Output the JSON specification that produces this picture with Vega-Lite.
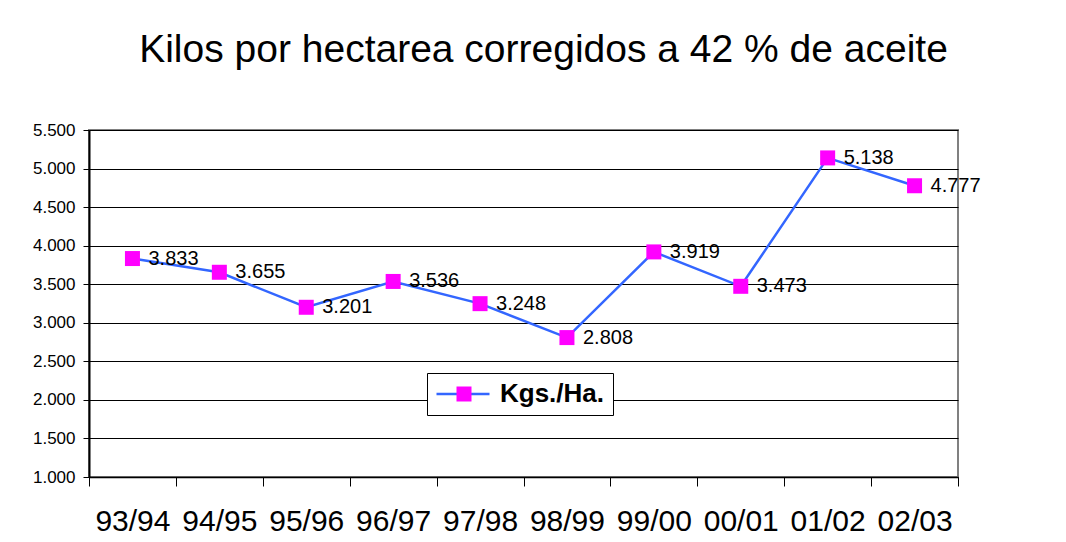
{
  "$schema": "https://vega.github.io/schema/vega-lite/v6.json",
  "autosize": "none",
  "width": 869,
  "height": 347,
  "padding": {"left": 89, "top": 130, "right": 108, "bottom": 65},
  "background": "white",
  "config": {
    "font": "Liberation Sans",
    "locale": {"number": {"decimal": ",", "thousands": ".", "grouping": [3], "currency": ["", ""]}},
    "view": {"stroke": "#808080", "strokeWidth": 2},
    "axis": {"labelFont": "Liberation Sans", "labelColor": "#000", "title": null}
  },
  "title": {
    "text": "Kilos por hectarea corregidos a 42 % de aceite",
    "fontSize": 39,
    "fontWeight": "normal",
    "font": "Liberation Sans",
    "color": "#000",
    "anchor": "middle",
    "frame": "group",
    "dx": 20,
    "baseline": "alphabetic",
    "offset": 20
  },
  "data": {
    "values": [
      {"season": "93/94", "kg": 3833},
      {"season": "94/95", "kg": 3655},
      {"season": "95/96", "kg": 3201},
      {"season": "96/97", "kg": 3536},
      {"season": "97/98", "kg": 3248},
      {"season": "98/99", "kg": 2808},
      {"season": "99/00", "kg": 3919},
      {"season": "00/01", "kg": 3473},
      {"season": "01/02", "kg": 5138},
      {"season": "02/03", "kg": 4777}
    ]
  },
  "encoding": {
    "x": {
      "field": "season", "type": "ordinal", "sort": null,
      "scale": {"type": "band", "paddingInner": 0, "paddingOuter": 0},
      "axis": {
        "labelAngle": 0, "labelFontSize": 30, "tickBand": "extent",
        "tickSize": 9, "tickColor": "#000", "tickWidth": 1,
        "domainColor": "#000", "domainWidth": 1.5,
        "labelPadding": 20, "grid": false
      }
    },
    "y": {
      "field": "kg", "type": "quantitative",
      "scale": {"domain": [1000, 5500], "nice": false, "zero": false},
      "axis": {
        "values": [1000, 1500, 2000, 2500, 3000, 3500, 4000, 4500, 5000, 5500],
        "format": ",d", "labelFontSize": 17, "tickSize": 6, "tickColor": "#000",
        "domainColor": "#000", "domainWidth": 2, "labelPadding": 8,
        "grid": true, "gridColor": "#000", "gridWidth": 1
      }
    }
  },
  "layer": [
    {
      "mark": {"type": "line", "strokeWidth": 2.5},
      "encoding": {
        "stroke": {
          "datum": "Kgs./Ha.",
          "scale": {"range": ["#3366FF"]},
          "legend": {
            "title": null, "orient": "none", "legendX": 338, "legendY": 243,
            "strokeColor": "#000", "fillColor": "#fff", "padding": 8,
            "symbolType": "stroke", "symbolSize": 2809, "symbolStrokeWidth": 2.5,
            "clipHeight": 26,
            "labelFontSize": 26, "labelFontWeight": "bold", "labelColor": "#000",
            "labelOffset": 9, "labelFont": "Liberation Sans", "zindex": 0
          }
        }
      }
    },
    {
      "mark": {"type": "point", "filled": true, "size": 225, "color": "#FF00FF", "opacity": 1},
      "encoding": {
        "shape": {
          "datum": "Kgs./Ha. ",
          "scale": {"range": ["square"]},
          "legend": {
            "title": null, "orient": "none", "legendX": 354, "legendY": 243,
            "padding": 8, "symbolSize": 225, "symbolFillColor": "#FF00FF",
            "symbolStrokeWidth": 0, "symbolOpacity": 1,
            "clipHeight": 26,
            "labelFontSize": 26, "labelFontWeight": "bold", "labelColor": "transparent",
            "labelOffset": 9, "labelFont": "Liberation Sans", "zindex": 1
          }
        }
      }
    },
    {
      "mark": {"type": "text", "align": "left", "baseline": "middle", "dx": 16, "fontSize": 20, "color": "#000"},
      "encoding": {"text": {"field": "kg", "type": "quantitative", "format": ",d"}}
    }
  ]
}
